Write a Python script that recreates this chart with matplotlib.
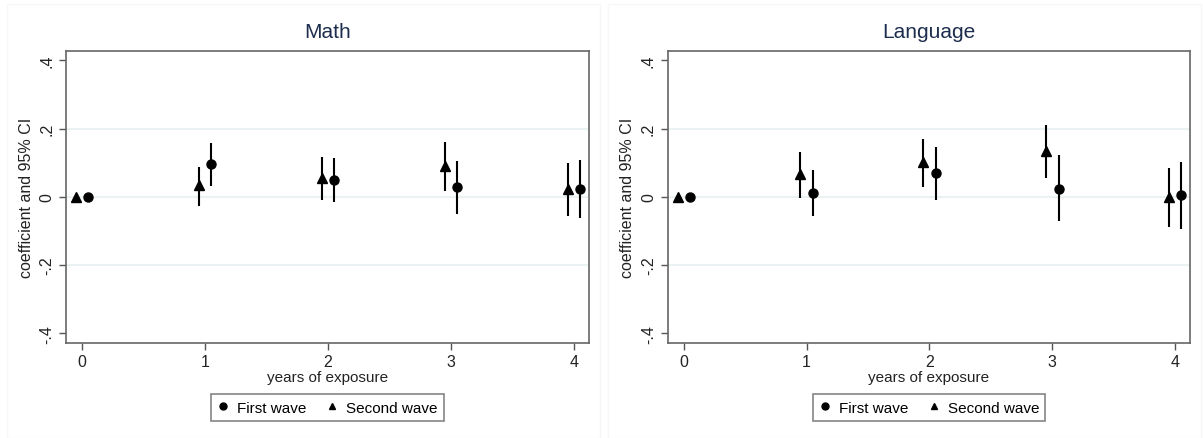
import numpy as np
import matplotlib.pyplot as plt
from matplotlib.lines import Line2D
from matplotlib.patches import Rectangle

# data
years = [0, 1, 2, 3, 4]
panels = ["Math", "Language"]

# first wave (circles)
math_first = [0.0, 0.095, 0.050, 0.028, 0.023]
math_first_lo = [0.0, 0.032, -0.016, -0.050, -0.063]
math_first_hi = [0.0, 0.157, 0.115, 0.106, 0.109]
# second wave (triangles)
math_second = [0.0, 0.034, 0.056, 0.090, 0.022]
math_second_lo = [0.0, -0.026, -0.010, 0.018, -0.056]
math_second_hi = [0.0, 0.088, 0.118, 0.160, 0.100]

lang_first = [0.0, 0.012, 0.069, 0.024, 0.005]
lang_first_lo = [0.0, -0.055, -0.009, -0.072, -0.094]
lang_first_hi = [0.0, 0.079, 0.146, 0.122, 0.103]
lang_second = [0.0, 0.066, 0.102, 0.134, 0.000]
lang_second_lo = [0.0, -0.002, 0.030, 0.054, -0.088]
lang_second_hi = [0.0, 0.130, 0.170, 0.211, 0.085]

yticks = [-0.4, -0.2, 0, 0.2, 0.4]
ytick_labels = ["-.4", "-.2", "0", ".2", ".4"]

plt.rcParams['font.family'] = ['Liberation Sans', 'DejaVu Sans']

fig = plt.figure(figsize=(12.03, 4.39), dpi=100)

# faint graph region borders
for x0 in [7, 608]:
    fig.patches.append(Rectangle((x0 / 1203, 0.0), 593 / 1203, 1 - 5 / 439,
                                 transform=fig.transFigure, fill=False,
                                 edgecolor='#f7f7f7', linewidth=1))

data = [
    (math_first, math_first_lo, math_first_hi, math_second, math_second_lo, math_second_hi),
    (lang_first, lang_first_lo, lang_first_hi, lang_second, lang_second_lo, lang_second_hi),
]

lefts = [66.3 / 1203, 667.7 / 1203]
for k in range(2):
    ax = fig.add_axes([lefts[k], 0.2171, 0.4342, 0.6651])
    f, flo, fhi, s, slo, shi = data[k]
    x = np.array(years)

    for yv in [-0.2, 0, 0.2]:
        ax.axhline(yv, color='#eaf2f3', linewidth=1.5, zorder=0)

    ax.vlines(x + 0.05, flo, fhi, color='black', linewidth=1.5)
    ax.plot(x + 0.05, f, 'o', color='black', markersize=6.5, linestyle='none')
    ax.vlines(x - 0.05, slo, shi, color='black', linewidth=1.5)
    ax.plot(x - 0.05, s, '^', color='black', markersize=6.5, linestyle='none')

    ax.set_xlim(-0.13, 4.12)
    ax.set_ylim(-0.427, 0.428)
    ax.set_xticks(years)
    ax.set_yticks(yticks)
    ax.set_yticklabels(ytick_labels, rotation=90, va='center')
    ax.tick_params(direction='out', length=5, width=1, color='#555555',
                   labelsize=11.5, labelcolor='#222222')
    for sp in ax.spines.values():
        sp.set_color('#666666')
        sp.set_linewidth(1.2)

    ax.set_title(panels[k], fontsize=15, color='#1c2d4e', pad=10)
    ax.set_ylabel("coefficient and 95% CI", fontsize=11.5, color='#222222')
    ax.set_xlabel("years of exposure", fontsize=11, color='#222222')
    ax.xaxis.set_label_coords(0.5, -0.093)
    ax.xaxis.label.set_va('top')

    handles = [Line2D([], [], marker='o', color='black', linestyle='none', markersize=5),
               Line2D([], [], marker='^', color='black', linestyle='none', markersize=5)]
    leg = ax.legend(handles, ["First wave", "Second wave"], loc='center',
                    bbox_to_anchor=(0.5, -0.222), ncol=2, fontsize=11,
                    frameon=True, fancybox=False, handlelength=0.8,
                    handletextpad=0.5, columnspacing=1.3, borderpad=0.4)
    leg.get_frame().set_edgecolor('#666666')
    leg.get_frame().set_linewidth(1.2)

fig.savefig("out.png", dpi=100)
